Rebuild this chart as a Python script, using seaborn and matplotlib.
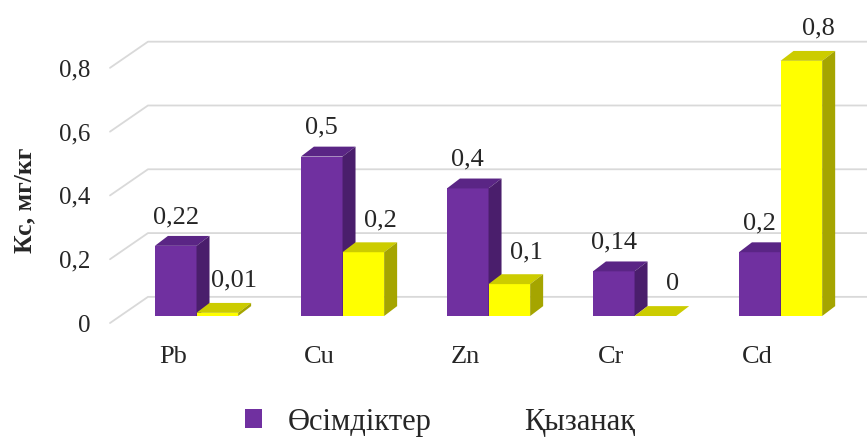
import numpy as np
import pandas as pd
import matplotlib
matplotlib.use("Agg")
import matplotlib.pyplot as plt
from matplotlib.patches import Polygon, Patch
import seaborn as sns

# Data
elements = ["Pb", "Cu", "Zn", "Cr", "Cd"]
plants = [0.22, 0.5, 0.4, 0.14, 0.2]
tomato = [0.01, 0.2, 0.1, 0.0, 0.8]
plant_labels = ["0,22", "0,5", "0,4", "0,14", "0,2"]
tomato_labels = ["0,01", "0,2", "0,1", "0", "0,8"]
series_names = ["Өсімдіктер", "Қызанақ"]
y_ticks = [0, 0.2, 0.4, 0.6, 0.8]
y_tick_labels = ["0", "0,2", "0,4", "0,6", "0,8"]

purple = "#7030A0"
purple_top = "#5A2585"
purple_side = "#4A1E6C"
yellow = "#FFFF00"
yellow_top = "#CCCC00"
yellow_side = "#A5A500"

df = pd.DataFrame({
    "element": elements * 2,
    "value": plants + tomato,
    "series": [series_names[0]] * 5 + [series_names[1]] * 5,
})

sns.set_style("white")
plt.rcParams["font.family"] = ["Liberation Serif", "DejaVu Serif"]

fig = plt.figure(figsize=(8.67, 4.4), dpi=100)
ax = fig.add_axes([100 / 867, 1 - 340 / 440, 767 / 867, 320 / 440])

sns.barplot(data=df, x="element", y="value", hue="series",
            palette=[purple, yellow], width=0.57, saturation=1,
            linewidth=0, legend=False, ax=ax)

# 3D look: depth of the bars and of the back wall (data units)
dx, dy = 0.089, 0.031
wall_dx, front_drop, back_rise = 0.26, 0.022, 0.06
xmin, xmax = -0.661, 4.592
ax.set_xlim(xmin, xmax)
ax.set_ylim(-0.0752, 0.928)

# back wall gridlines
x_front = xmin + 10 / 146
for v in y_ticks:
    ax.plot([x_front, x_front + wall_dx, xmax],
            [v - front_drop, v + back_rise, v + back_rise],
            color="#D9D9D9", lw=1.3, zorder=0, clip_on=False)

faces = [(purple_top, purple_side, 2), (yellow_top, yellow_side, 3)]
for k, p in enumerate(ax.patches[:10]):
    top_c, side_c, z = faces[k // 5]
    x0, w, h = p.get_x(), p.get_width(), p.get_height()
    x1 = x0 + w
    p.set_zorder(z)
    ax.add_patch(Polygon([(x0, h), (x1, h), (x1 + dx, h + dy), (x0 + dx, h + dy)],
                         closed=True, fc=top_c, ec="none", zorder=z))
    ax.add_patch(Polygon([(x1, 0), (x1, h), (x1 + dx, h + dy), (x1 + dx, dy)],
                         closed=True, fc=side_c, ec="none", zorder=z))

# data labels
for k, p in enumerate(ax.patches[:10]):
    cx = p.get_x() + p.get_width() / 2
    h = p.get_height()
    if k < 5:
        ax.text(cx, h + 0.09, plant_labels[k], ha="center", va="center",
                fontsize=19, zorder=5)
    else:
        ax.text(cx + 0.116, h + 0.1, tomato_labels[k - 5], ha="center",
                va="center", fontsize=19, zorder=5)

ax.set_xticks(np.arange(len(elements)) - 0.16, labels=elements, fontsize=19)
ax.set_yticks(np.array(y_ticks) - front_drop, labels=y_tick_labels, fontsize=18)
ax.tick_params(axis="both", length=0)
ax.tick_params(axis="x", pad=4)
ax.tick_params(axis="y", pad=7)
ax.set_xlabel("")
ax.set_ylabel("")
for s in ax.spines.values():
    s.set_visible(False)

fig.text(25 / 867, 1 - 200 / 440, "Кс, мг/кг", rotation=90, ha="center",
         va="center", fontsize=18.5, fontweight="bold")

handles = [Patch(facecolor=purple, edgecolor="none"),
           Patch(facecolor="none", edgecolor="none")]
fig.legend(handles, series_names, loc="center",
           bbox_to_anchor=(440 / 867, 1 - 422 / 440), ncol=2, frameon=False,
           fontsize=22, handlelength=0.55, handleheight=0.55,
           handletextpad=0.85, columnspacing=1.6)

fig.savefig("out.png", dpi=100)
